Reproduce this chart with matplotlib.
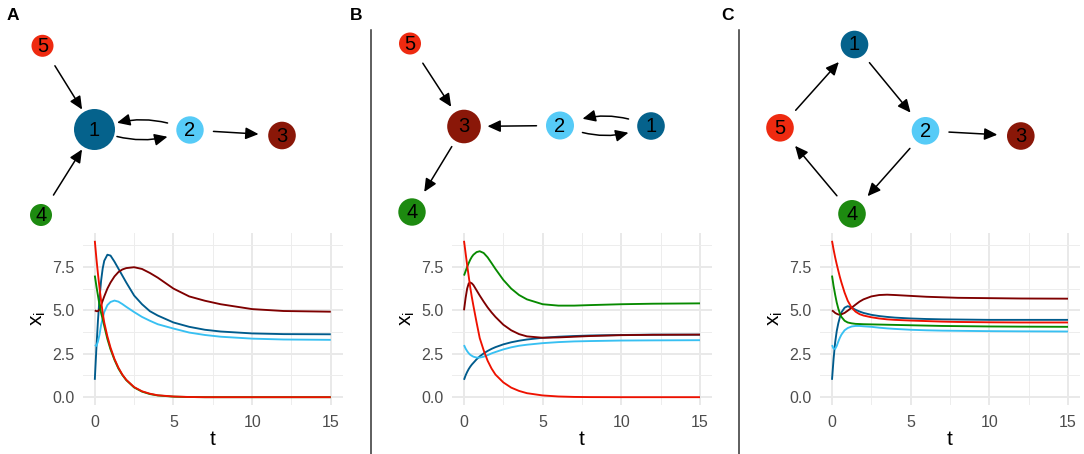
import numpy as np
import matplotlib
matplotlib.use("Agg")
import matplotlib.pyplot as plt
from matplotlib.patches import Circle, FancyArrowPatch
from matplotlib.ticker import MultipleLocator

plt.rcParams["font.family"] = ["Liberation Sans", "DejaVu Sans"]

# ── colours of the five variables ─────────────────────────────────────────────
NODE_COL = {1: "#05628c", 2: "#56cbf7", 3: "#8a1708", 4: "#1d8a10", 5: "#ee2a10"}
LINE_COL = {1: "#005b8c", 2: "#38c0f2", 3: "#7f0000", 4: "#078a00", 5: "#ee1100"}

# ── network layouts (pixel positions in the figure) ──────────────────────────
NODES_A = {1: (94.5, 129.5), 2: (190, 130), 3: (282, 135.5), 4: (41, 215), 5: (42.5, 45.8)}
RADII_A = {1: 20.5, 2: 13.7, 3: 13.8, 4: 11, 5: 11}
EDGES_A = [(5, 1), (4, 1), (1, 2), (2, 1), (2, 3)]

NODES_B = {1: (651, 126), 2: (560, 125.5), 3: (464, 126.5), 4: (412, 212), 5: (410, 43.5)}
RADII_B = {1: 13.8, 2: 14, 3: 16.8, 4: 13.7, 5: 11}
EDGES_B = [(5, 3), (2, 3), (1, 2), (2, 1), (3, 4)]

NODES_C = {1: (854.5, 44.5), 2: (925.5, 130.8), 3: (1020.8, 136), 4: (852, 213.8), 5: (780, 127.8)}
RADII_C = {1: 13.8, 2: 13.8, 3: 13.8, 4: 13.8, 5: 13.8}
EDGES_C = [(1, 2), (2, 3), (2, 4), (4, 5), (5, 1)]

# ── trajectories ─────────────────────────────────────────────────────────────
T = [0, 0.1, 0.2, 0.3, 0.4, 0.5, 0.6, 0.8, 1.0, 1.25, 1.5, 1.75, 2, 2.5, 3,
     3.5, 4, 5, 6, 7, 8, 10, 12, 15]

A_X1 = [1.0, 2.8, 4.4, 5.7, 6.7, 7.4, 7.85, 8.2, 8.15, 7.8, 7.4, 7.0, 6.6, 5.85,
        5.35, 4.95, 4.7, 4.3, 4.05, 3.88, 3.78, 3.67, 3.63, 3.62]
A_X2 = [3.0, 2.95, 3.2, 3.6, 4.15, 4.55, 4.9, 5.3, 5.48, 5.56, 5.5, 5.36, 5.2, 4.9,
        4.62, 4.4, 4.2, 3.95, 3.72, 3.58, 3.48, 3.37, 3.32, 3.3]
A_X3 = [5.0, 4.95, 4.95, 5.05, 5.3, 5.55, 5.8, 6.25, 6.6, 6.95, 7.2, 7.35, 7.43,
        7.48, 7.38, 7.15, 6.88, 6.25, 5.8, 5.55, 5.35, 5.07, 4.96, 4.92]
A_X4 = [7.0, 6.4, 5.85, 5.3, 4.85, 4.5, 4.1, 3.35, 2.75, 2.15, 1.65, 1.28, 0.98,
        0.56, 0.32, 0.18, 0.1, 0.03, 0.01, 0.0, 0.0, 0.0, 0.0, 0.0]
A_X5 = [9.0, 8.0, 7.1, 6.3, 5.55, 4.85, 4.3, 3.5, 2.85, 2.2, 1.7, 1.3, 1.0, 0.58,
        0.34, 0.2, 0.11, 0.04, 0.01, 0.0, 0.0, 0.0, 0.0, 0.0]

B_X1 = [1.0, 1.25, 1.45, 1.62, 1.76, 1.88, 1.98, 2.18, 2.35, 2.52, 2.66, 2.78,
        2.88, 3.04, 3.16, 3.25, 3.32, 3.42, 3.48, 3.52, 3.55, 3.58, 3.6, 3.6]
B_X2 = [3.0, 2.8, 2.65, 2.53, 2.44, 2.38, 2.33, 2.28, 2.28, 2.33, 2.42, 2.52, 2.6,
        2.75, 2.87, 2.96, 3.02, 3.11, 3.17, 3.21, 3.23, 3.26, 3.27, 3.28]
B_X3 = [5.0, 5.7, 6.25, 6.55, 6.6, 6.55, 6.45, 6.15, 5.85, 5.5, 5.17, 4.88, 4.62,
        4.17, 3.85, 3.63, 3.5, 3.42, 3.44, 3.48, 3.52, 3.57, 3.59, 3.6]
B_X4 = [7.0, 7.25, 7.5, 7.72, 7.92, 8.08, 8.2, 8.35, 8.4, 8.3, 8.05, 7.72, 7.38,
        6.75, 6.25, 5.88, 5.63, 5.35, 5.27, 5.27, 5.3, 5.35, 5.38, 5.4]
B_X5 = [9.0, 8.3, 7.6, 6.95, 6.3, 5.75, 5.25, 4.3, 3.4, 2.7, 2.1, 1.65, 1.3, 0.85,
        0.55, 0.36, 0.23, 0.1, 0.04, 0.015, 0.005, 0.0, 0.0, 0.0]

C_X1 = [1.0, 2.2, 3.15, 3.8, 4.25, 4.6, 4.88, 5.15, 5.24, 5.15, 5.03, 4.93, 4.85,
        4.74, 4.67, 4.62, 4.58, 4.53, 4.5, 4.48, 4.47, 4.45, 4.45, 4.45]
C_X2 = [3.0, 2.8, 2.78, 2.95, 3.2, 3.42, 3.6, 3.85, 3.98, 4.07, 4.1, 4.1, 4.08,
        4.05, 4.0, 3.96, 3.93, 3.88, 3.85, 3.83, 3.82, 3.8, 3.79, 3.78]
C_X3 = [5.0, 4.93, 4.85, 4.8, 4.76, 4.75, 4.77, 4.85, 4.98, 5.15, 5.33, 5.5, 5.63,
        5.8, 5.88, 5.9, 5.88, 5.83, 5.78, 5.75, 5.72, 5.7, 5.68, 5.67]
C_X4 = [7.0, 6.4, 5.9, 5.45, 5.1, 4.82, 4.62, 4.4, 4.3, 4.25, 4.22, 4.21, 4.2,
        4.19, 4.18, 4.17, 4.16, 4.14, 4.12, 4.1, 4.09, 4.07, 4.06, 4.05]
C_X5 = [9.0, 8.5, 8.05, 7.65, 7.28, 6.92, 6.6, 6.02, 5.55, 5.15, 4.92, 4.78, 4.7,
        4.6, 4.53, 4.48, 4.45, 4.41, 4.38, 4.35, 4.33, 4.31, 4.3, 4.3]

PANELS = [
    ("A", NODES_A, RADII_A, EDGES_A, [A_X1, A_X2, A_X3, A_X4, A_X5], 83, 13),
    ("B", NODES_B, RADII_B, EDGES_B, [B_X1, B_X2, B_X3, B_X4, B_X5], 452.2, 356),
    ("C", NODES_C, RADII_C, EDGES_C, [C_X1, C_X2, C_X3, C_X4, C_X5], 820.2, 727),
]

W, H = 1084, 454
fig = plt.figure(figsize=(W / 100, H / 100), dpi=100)
fig.patch.set_facecolor("white")

# overlay in pixel units for the graphs, labels and separators
net = fig.add_axes([0, 0, 1, 1])
net.set_xlim(0, W)
net.set_ylim(H, 0)
net.axis("off")

CLEAR = 23.5           # distance of arrow ends from node centres
BEND = np.deg2rad(17)  # angular offset for reciprocal edges


def rot(v, a):
    return np.array([v[0] * np.cos(a) - v[1] * np.sin(a),
                     v[0] * np.sin(a) + v[1] * np.cos(a)])


def draw_graph(nodes, radii, edges):
    for s, d in edges:
        ps, pd = np.array(nodes[s], float), np.array(nodes[d], float)
        u = (pd - ps) / np.linalg.norm(pd - ps)
        if (d, s) in edges:
            a = ps + CLEAR * rot(u, BEND)
            b = pd + CLEAR * rot(-u, -BEND)
            cs = "arc3,rad=0.12"
        else:
            a = ps + CLEAR * u
            b = pd - CLEAR * u
            cs = "arc3,rad=0"
        net.add_patch(FancyArrowPatch(
            a, b, arrowstyle="-|>,head_length=0.65,head_width=0.3",
            connectionstyle=cs, mutation_scale=12, lw=1.1, color="black",
            shrinkA=0, shrinkB=0, zorder=2))
    for k, (x, y) in nodes.items():
        net.add_patch(Circle((x, y), radii[k], facecolor=NODE_COL[k],
                             edgecolor="none", zorder=3))
        net.text(x, y + 0.5, str(k), ha="center", va="center", fontsize=14.5,
                 color="black", zorder=4)


for label, nodes, radii, edges, series, left, lab_x in PANELS:
    draw_graph(nodes, radii, edges)
    net.text(lab_x, 15, label, ha="center", va="center", fontsize=12.5,
             fontweight="bold")

    ax = fig.add_axes([left / W, 1 - 405 / H, 259.6 / W, 172 / H])
    ax.set_facecolor("white")
    for k, vals in enumerate(series, start=1):
        ax.plot(T, vals, color=LINE_COL[k], lw=1.35, solid_capstyle="butt",
                zorder=3)
    ax.set_xlim(-0.75, 15.75)
    ax.set_ylim(-0.45, 9.45)
    ax.xaxis.set_major_locator(MultipleLocator(5))
    ax.xaxis.set_minor_locator(MultipleLocator(2.5))
    ax.yaxis.set_major_locator(MultipleLocator(2.5))
    ax.yaxis.set_minor_locator(MultipleLocator(1.25))
    ax.set_yticklabels([f"{v:.1f}" for v in ax.get_yticks()])
    ax.grid(which="major", color="#e9e9e9", lw=1.4)
    ax.grid(which="minor", color="#ededed", lw=0.7)
    ax.set_axisbelow(True)
    for sp in ax.spines.values():
        sp.set_visible(False)
    ax.tick_params(which="both", length=0)
    ax.tick_params(axis="x", pad=7, labelsize=11.5, labelcolor="#4d4d4d")
    ax.tick_params(axis="y", pad=6, labelsize=11.5, labelcolor="#4d4d4d")
    ax.set_xlabel("t", fontsize=15, labelpad=0)
    ax.set_ylabel(r"$\mathregular{x_i}$", fontsize=15, labelpad=3)

# vertical separators between panels
for xs in (371, 739):
    net.plot([xs, xs], [30, H], color="#333333", lw=1.1)

fig.savefig("out.png", dpi=100, facecolor="white")
